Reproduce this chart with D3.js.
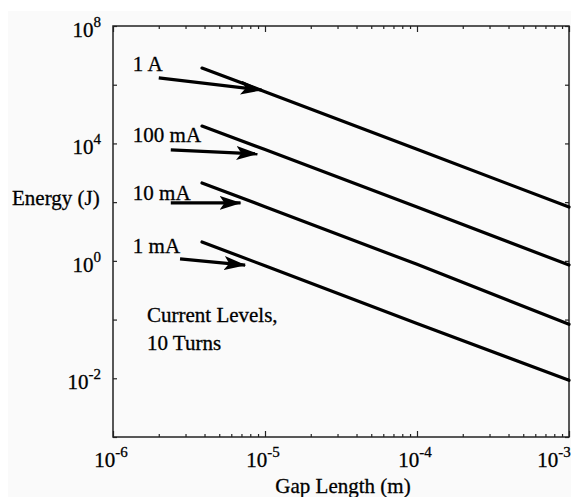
<!DOCTYPE html>
<html>
<head>
<meta charset="utf-8">
<script src="https://cdn.jsdelivr.net/npm/d3@7"></script>
<style>
body { margin: 0; background: #fff; }
text { font-family: "Liberation Serif", "Times New Roman", serif; fill: #000; stroke: #000; stroke-width: 0.3px; }
</style>
</head>
<body>
<div id="chart"></div>
<script>
// curves: gap length (m) vs energy (J)
const currents = ['1 A', '100 mA', '10 mA', '1 mA'];
const gapPoints = [3.85e-6, 1e-5, 1e-4, 1e-3];
const energy_1A = [3.7e6, 5.8e5, 6.3e3, 68];
const energy_100mA = [3.9e4, 6.2e3, 68, 0.72];
const energy_10mA = [450, 70, 0.76, 0.0069];
const energy_1mA = [4.4, 0.68, 0.0074, 8.5e-5];
const energies = [energy_1A, energy_100mA, energy_10mA, energy_1mA];

// annotation arrows (data coords)
const arrowFromGap = [2.0e-6, 2.4e-6, 2.4e-6, 2.76e-6];
const arrowFromEnergy = [1.7e6, 6.0e3, 94, 1.16];
const arrowToGap = [9.5e-6, 8.9e-6, 6.9e-6, 7.4e-6];
const arrowToEnergy = [6.6e5, 4.4e3, 94, 0.72];
const labelGap = 1.35e-6;
const labelEnergy = [2.9e6, 1.1e4, 119, 1.85];

// axis ticks / labels
const xDomain = [1e-6, 1e-3];
const yDomain = [1e-6, 1e8];
const xLabelValues = [1e-6, 1e-5, 1e-4, 1e-3];
const xLabelExponents = ['-6', '-5', '-4', '-3'];
const yTickValues = [1e-6, 1e-4, 1e-2, 1, 1e2, 1e4, 1e6, 1e8];
const yLabelValues = [1e8, 1e4, 1, 1e-4];
const yLabelExponents = ['8', '4', '0', '-2'];

const chart_width = 571;
const chart_height = 497;
const plot = { left: 113, right: 569, top: 26, bottom: 437 };

const svg = d3.select('#chart')
    .append('svg')
    .attr('width', chart_width)
    .attr('height', chart_height);

// scanned page background
svg.append('rect')
    .attr('x', 8).attr('y', 11)
    .attr('width', chart_width - 8).attr('height', chart_height - 11)
    .attr('fill', '#fafafa');

const x_scale = d3.scaleLog().domain(xDomain).range([plot.left, plot.right]);
const y_scale = d3.scaleLog().domain(yDomain).range([plot.bottom, plot.top]);

const xMinor = x_scale.ticks().filter(v => !xLabelValues.some(m => Math.abs(m - v) / m < 1e-6));

function cleanAxis(g) {
    g.select('.domain').remove();
    g.selectAll('.tick line').attr('stroke', '#222').attr('stroke-width', 1.2);
}

// x ticks (inward), bottom and top
svg.append('g').attr('transform', `translate(0,${plot.bottom})`)
    .call(d3.axisBottom(x_scale).tickValues(xMinor).tickSize(-3).tickFormat('')).call(cleanAxis);
svg.append('g').attr('transform', `translate(0,${plot.bottom})`)
    .call(d3.axisBottom(x_scale).tickValues(xLabelValues).tickSize(-6).tickFormat('')).call(cleanAxis);
svg.append('g').attr('transform', `translate(0,${plot.top})`)
    .call(d3.axisTop(x_scale).tickValues(xMinor).tickSize(-3).tickFormat('')).call(cleanAxis);
svg.append('g').attr('transform', `translate(0,${plot.top})`)
    .call(d3.axisTop(x_scale).tickValues(xLabelValues).tickSize(-6).tickFormat('')).call(cleanAxis);

// y ticks (inward), left and right
svg.append('g').attr('transform', `translate(${plot.left},0)`)
    .call(d3.axisLeft(y_scale).tickValues(yTickValues).tickSize(-4).tickFormat('')).call(cleanAxis);
svg.append('g').attr('transform', `translate(${plot.right},0)`)
    .call(d3.axisRight(y_scale).tickValues(yTickValues).tickSize(-4).tickFormat('')).call(cleanAxis);

// frame
svg.append('rect')
    .attr('x', plot.left).attr('y', plot.top)
    .attr('width', plot.right - plot.left).attr('height', plot.bottom - plot.top)
    .attr('fill', 'none').attr('stroke', '#222').attr('stroke-width', 1.5);

// x tick labels 10^n (last one pulled in so it stays on the page)
const xl = svg.selectAll('text.xlab')
    .data(xLabelValues)
    .enter()
    .append('text')
    .attr('class', 'xlab')
    .attr('x', d => Math.min(x_scale(d) - 2, chart_width - 17))
    .attr('y', 467)
    .attr('text-anchor', 'middle')
    .attr('font-size', 21);
xl.append('tspan').text('10');
xl.append('tspan').attr('font-size', 15).attr('dy', -10).text((d, i) => xLabelExponents[i]);

// y tick labels 10^n
const yl = svg.selectAll('text.ylab')
    .data(yLabelValues)
    .enter()
    .append('text')
    .attr('class', 'ylab')
    .attr('x', 101)
    .attr('y', d => y_scale(d) + 11)
    .attr('text-anchor', 'end')
    .attr('font-size', 21);
yl.append('tspan').text('10');
yl.append('tspan').attr('font-size', 15).attr('dy', -10).text((d, i) => yLabelExponents[i]);

// axis titles
svg.append('text').attr('x', 12).attr('y', 205).attr('font-size', 21).text('Energy (J)');
svg.append('text').attr('x', (plot.left + plot.right) / 2 + 2).attr('y', 493)
    .attr('text-anchor', 'middle').attr('font-size', 21).text('Gap Length (m)');

// curves
const line = d3.line()
    .x((d, i) => x_scale(gapPoints[i]))
    .y(d => y_scale(d));

svg.selectAll('path.curve')
    .data(energies)
    .enter()
    .append('path')
    .attr('class', 'curve')
    .attr('d', d => line(d))
    .attr('fill', 'none')
    .attr('stroke', '#000')
    .attr('stroke-width', 3.2)
    .attr('stroke-linecap', 'round');

// arrowheads
svg.append('defs').append('marker')
    .attr('id', 'head')
    .attr('markerUnits', 'userSpaceOnUse')
    .attr('viewBox', '0 -7 22 14')
    .attr('refX', 21).attr('refY', 0)
    .attr('markerWidth', 22).attr('markerHeight', 14)
    .attr('orient', 'auto')
    .append('path')
    .attr('d', 'M0,-7L22,0L0,7L5,0Z')
    .attr('fill', '#000');

svg.selectAll('line.arrow')
    .data(currents)
    .enter()
    .append('line')
    .attr('class', 'arrow')
    .attr('x1', (d, i) => x_scale(arrowFromGap[i]))
    .attr('y1', (d, i) => y_scale(arrowFromEnergy[i]))
    .attr('x2', (d, i) => x_scale(arrowToGap[i]))
    .attr('y2', (d, i) => y_scale(arrowToEnergy[i]))
    .attr('stroke', '#000')
    .attr('stroke-width', 3.2)
    .attr('marker-end', 'url(#head)');

// current labels
svg.selectAll('text.cur')
    .data(currents)
    .enter()
    .append('text')
    .attr('class', 'cur')
    .attr('x', x_scale(labelGap))
    .attr('y', (d, i) => y_scale(labelEnergy[i]))
    .attr('font-size', 21)
    .text(d => d);

const note = svg.append('text')
    .attr('x', 147).attr('y', 322)
    .attr('font-size', 21);
note.append('tspan').attr('x', 147).text('Current Levels,');
note.append('tspan').attr('x', 147).attr('dy', 28).text('10 Turns');
</script>
</body>
</html>
